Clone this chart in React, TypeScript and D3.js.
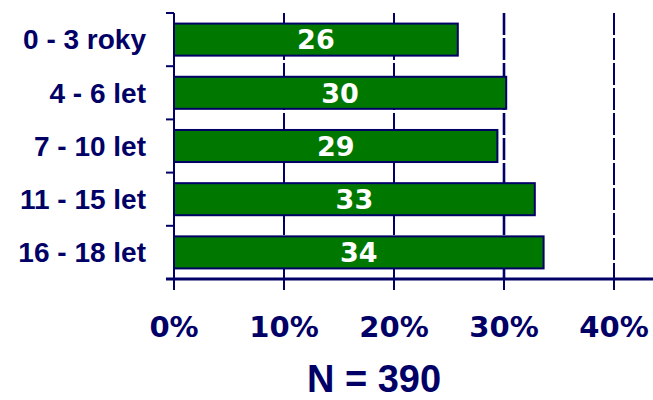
import React from "react";
import * as d3 from "d3";

const categories = ["0 - 3 roky", "4 - 6 let", "7 - 10 let", "11 - 15 let", "16 - 18 let"];
const values = [25.8, 30.2, 29.4, 32.8, 33.6];
const valueLabels = ["26", "30", "29", "33", "34"];
const tickValues = [0, 10, 20, 30, 40];
const tickLabels = ["0%", "10%", "20%", "30%", "40%"];
const footer = "N = 390";

const W = 653;
const H = 400;
const NAVY = "#000066";
const GREEN = "#007800";

export default function App() {
  const x = d3.scaleLinear().domain([0, 40]).range([174, 614]);
  const y = d3.scaleBand<string>().domain(categories).range([13, 279]).paddingInner(0.36).paddingOuter(0.18);
  const step = y.step();
  const top = 13;
  const bottom = 279;
  const boundaries = d3.range(categories.length + 1).map((i) => top + i * step);

  return (
    <svg width={W} height={H} style={{ position: "absolute", left: 0, top: 0, background: "#fff" }}>
      {tickValues.slice(1).map((v) => (
        <line key={"g" + v} x1={x(v)} x2={x(v)} y1={top} y2={bottom} stroke={NAVY} strokeWidth={v === 30 ? 2.6 : 2} strokeDasharray="22 3" />
      ))}
      {categories.map((c, i) => (
        <g key={c}>
          <rect x={x(0)} y={(y(c) as number) + 1} width={x(values[i]) - x(0)} height={y.bandwidth() - 2} fill={GREEN} stroke={NAVY} strokeWidth={2} />
          <text
            x={(x(0) + x(values[i])) / 2}
            y={(y(c) as number) + y.bandwidth() / 2}
            dy="0.36em"
            textAnchor="middle"
            fill="#fff"
            fontFamily="'DejaVu Sans', Verdana, sans-serif"
            fontWeight="bold"
            fontSize={27}
          >
            {valueLabels[i]}
          </text>
          <text
            x={146}
            y={(y(c) as number) + y.bandwidth() / 2}
            dy="0.35em"
            textAnchor="end"
            fill={NAVY}
            fontFamily="'Liberation Sans', Arial, sans-serif"
            fontWeight="bold"
            fontSize={28}
          >
            {c}
          </text>
        </g>
      ))}
      <line x1={x(0)} x2={x(0)} y1={top} y2={bottom + 11} stroke={NAVY} strokeWidth={2} />
      {boundaries.map((b, i) => (
        <line key={"yt" + i} x1={166} x2={x(0)} y1={b} y2={b} stroke={NAVY} strokeWidth={2} />
      ))}
      <line x1={166} x2={W} y1={bottom} y2={bottom} stroke={NAVY} strokeWidth={3} />
      {tickValues.map((v, i) => (
        <g key={"xt" + v}>
          <line x1={x(v)} x2={x(v)} y1={bottom} y2={bottom + 11} stroke={NAVY} strokeWidth={2} />
          <text
            x={x(v)}
            y={337}
            textAnchor="middle"
            fill={NAVY}
            fontFamily="'DejaVu Sans', Verdana, sans-serif"
            fontWeight="bold"
            fontSize={29}
          >
            {tickLabels[i]}
          </text>
        </g>
      ))}
      <text
        x={374}
        y={392}
        textAnchor="middle"
        fill={NAVY}
        fontFamily="'Liberation Sans', Arial, sans-serif"
        fontWeight="bold"
        fontSize={38}
      >
        {footer}
      </text>
    </svg>
  );
}
